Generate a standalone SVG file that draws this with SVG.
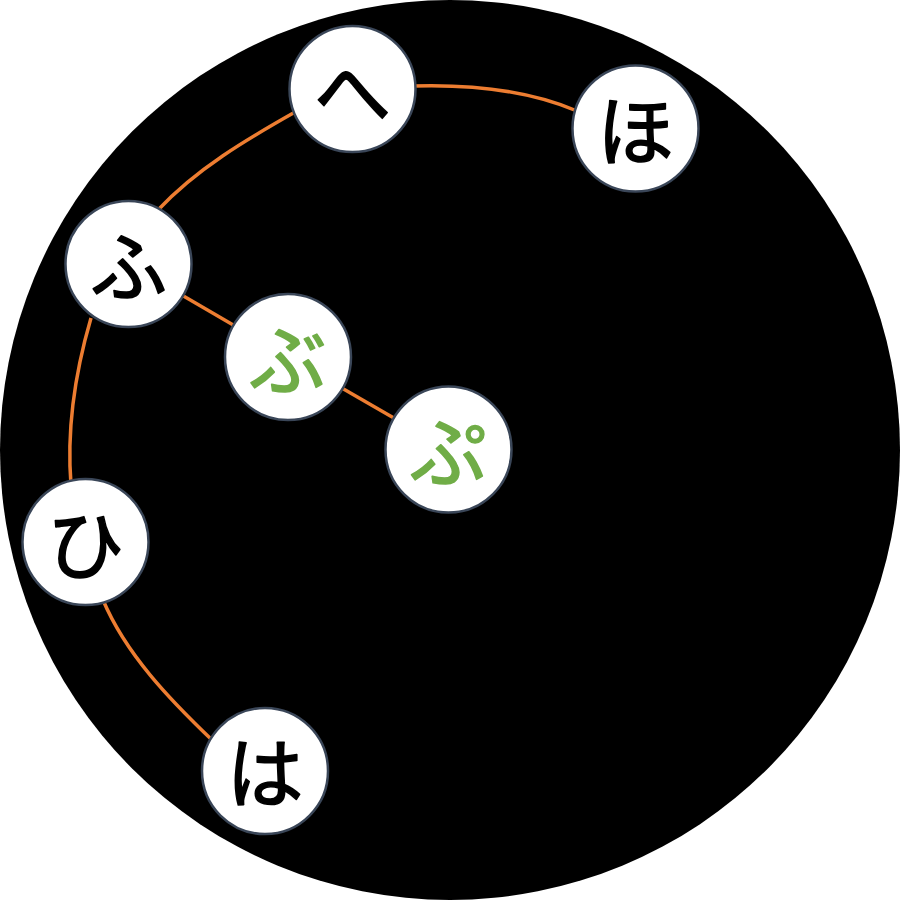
<svg xmlns="http://www.w3.org/2000/svg" width="900" height="900" viewBox="0 0 900 900">
<style>
.node circle{fill:#ffffff;stroke:#3a4658;stroke-width:2.5}
.node text{font-family:"Noto Sans CJK JP","Noto Sans",sans-serif;font-size:77px;text-anchor:middle;dominant-baseline:central;fill:#000000;stroke:#000000;stroke-width:1.6;stroke-linejoin:round}
.node text.g{fill:#70ad47;stroke:#70ad47}
.edge{fill:none;stroke:#ed7d31;stroke-width:3.5}
</style>
<rect width="900" height="900" fill="#ffffff"/>
<circle cx="450" cy="450" r="450" fill="#000000"/>
<g id="connectors">
<path class="edge" d="M103,600 C126,654.3 169.5,699.3 212,740"/>
<path class="edge" d="M71,485 C66.5,429.2 75.3,371.8 91,318"/>
<path class="edge" d="M158,210 C196.4,168.8 246.8,139.2 296,111.5"/>
<path class="edge" d="M413,86 C468,84.35 526.4,89.5 577,111"/>
<line class="edge" x1="128.5" y1="264" x2="288" y2="357"/>
<line class="edge" x1="288" y1="357" x2="448.5" y2="449.5"/>
</g>
<g id="node-ha" class="node"><circle cx="265" cy="771" r="63"/><text x="265" y="768">は</text></g>
<g id="node-hi" class="node"><circle cx="85.5" cy="542" r="63"/><text x="85.5" y="540">ひ</text></g>
<g id="node-fu" class="node"><circle cx="128.5" cy="264" r="63"/><text x="128.5" y="262">ふ</text></g>
<g id="node-he" class="node"><circle cx="352.5" cy="89" r="63"/><text x="352.5" y="87">へ</text></g>
<g id="node-ho" class="node"><circle cx="635.5" cy="128.5" r="63"/><text x="635.5" y="126">ほ</text></g>
<g id="node-bu" class="node"><circle cx="288" cy="357" r="63"/><text class="g" x="288" y="355">ぶ</text></g>
<g id="node-pu" class="node"><circle cx="448.5" cy="449.5" r="63"/><text class="g" x="448.5" y="447">ぷ</text></g>
</svg>
